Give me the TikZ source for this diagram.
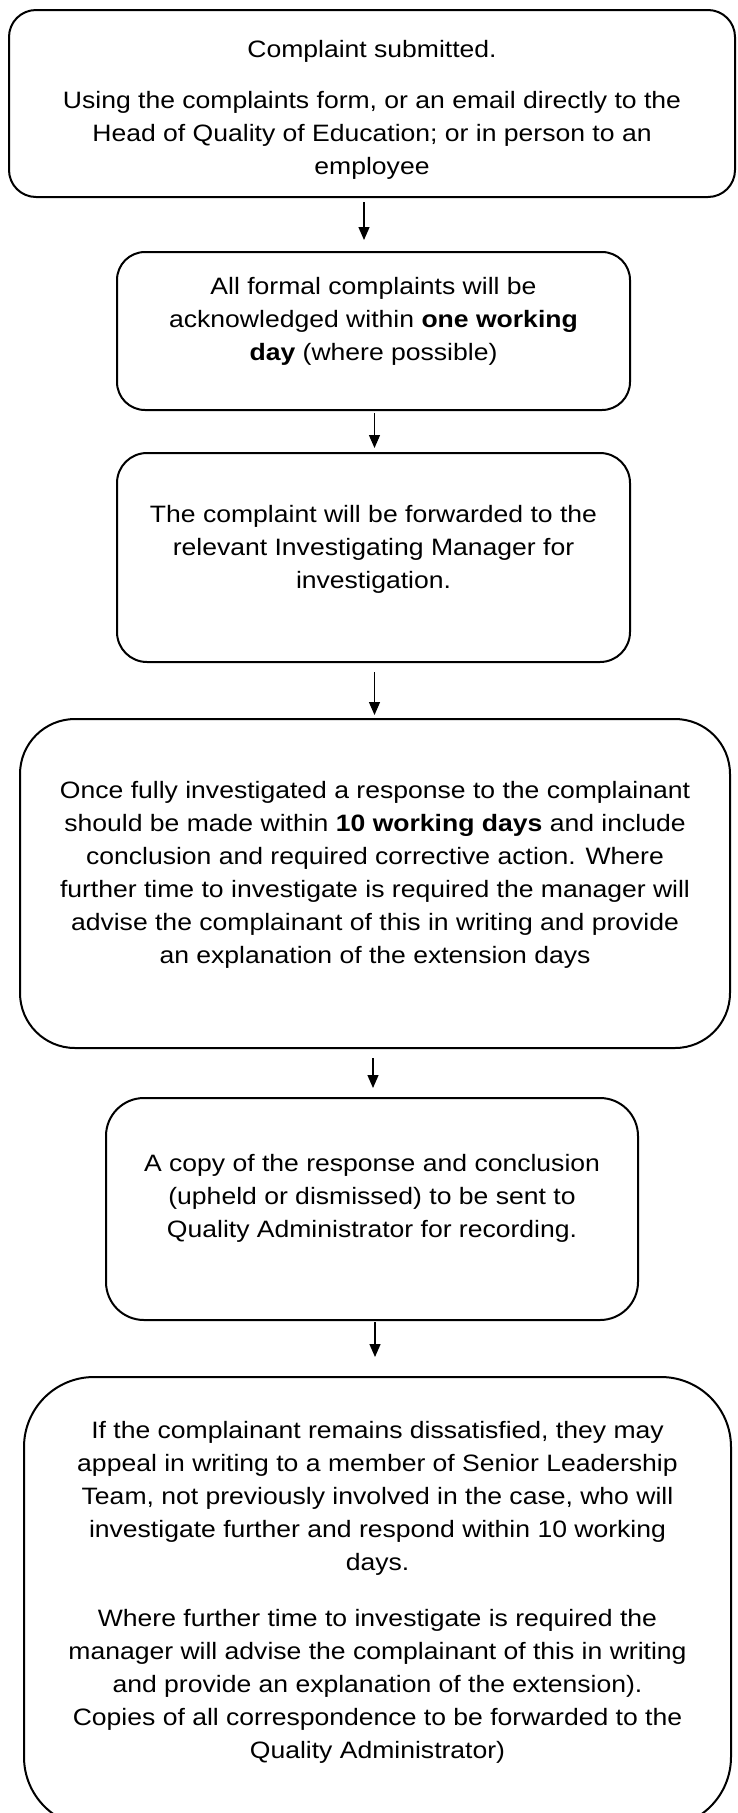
\documentclass[tikz,border=0pt]{standalone}
\usepackage{fontspec}
\setmainfont[FakeStretch=1.12]{Liberation Sans}
\usetikzlibrary{arrows.meta}
\tikzset{
  flowbox/.style={draw=black, line width=2pt, fill=none, inner sep=0pt, outer sep=0pt},
  flowtext/.style={anchor=north, inner sep=0pt, align=center, font=\fontsize{23.7}{33}\selectfont},
  flowarrow/.style={line width=1.3pt, -{Triangle[length=13pt,width=11pt]}}
}
\begin{document}
\begin{tikzpicture}[x=1pt,y=-1pt]
\useasboundingbox (0,0) rectangle (737,1813);
\clip (0,0) rectangle (737,1813);
\fill[white] (0,0) rectangle (737,1813);

% boxes
\node[flowbox, rounded corners=27pt, minimum width=726pt, minimum height=187pt] (b1) at (372,103.5) {};
\node[flowbox, rounded corners=28pt, minimum width=513pt, minimum height=158pt] (b2) at (373.5,331) {};
\node[flowbox, rounded corners=30pt, minimum width=513pt, minimum height=209pt] (b3) at (373.5,557.5) {};
\node[flowbox, rounded corners=55pt, minimum width=710pt, minimum height=329pt] (b4) at (375,883.5) {};
\node[flowbox, rounded corners=38pt, minimum width=532pt, minimum height=222pt] (b5) at (372,1209) {};
\node[flowbox, rounded corners=70pt, minimum width=707pt, minimum height=450pt] (b6) at (377.5,1602) {};

% texts
\node[flowtext] (t1) at (372,33.9) {\strut Complaint submitted.\\[18pt]
\strut Using the complaints form, or an email directly to the\\
\strut Head of Quality of Education; or in person to an\\
\strut employee};
\node[flowtext] (t2) at (373.5,270.9) {\strut All formal complaints will be\\
\strut acknowledged within \textbf{one working}\\
\strut \textbf{day} (where possible)};
\node[flowtext] (t3) at (373.5,498.9) {\strut The complaint will be forwarded to the\\
\strut relevant Investigating Manager for\\
\strut investigation.};
\node[flowtext] (t4) at (375,774.9) {\strut Once fully investigated a response to the complainant\\
\strut should be made within \textbf{10 working days} and include\\
\strut conclusion and required corrective action. Where\\
\strut further time to investigate is required the manager will\\
\strut advise the complainant of this in writing and provide\\
\strut an explanation of the extension days};
\node[flowtext] (t5) at (372,1147.9) {\strut A copy of the response and conclusion\\
\strut (upheld or dismissed) to be sent to\\
\strut Quality Administrator for recording.};
\node[flowtext] (t6) at (377.5,1414.9) {\strut If the complainant remains dissatisfied, they may\\
\strut appeal in writing to a member of Senior Leadership\\
\strut Team, not previously involved in the case, who will\\
\strut investigate further and respond within 10 working\\
\strut days.\\[23pt]
\strut Where further time to investigate is required the\\
\strut manager will advise the complainant of this in writing\\
\strut and provide an explanation of the extension).\\
\strut Copies of all correspondence to be forwarded to the\\
\strut Quality Administrator)};

% arrows
\draw[flowarrow, shorten <=5pt, shorten >=12pt] ([xshift=-8pt]b1.south) -- ([xshift=-8pt]b1.south |- b2.north);
\draw[flowarrow, shorten <=3pt, shorten >=5pt] ([xshift=1pt]b2.south) -- ([xshift=1pt]b2.south |- b3.north);
\draw[flowarrow, shorten <=10pt, shorten >=4pt] ([xshift=1pt]b3.south) -- ([xshift=1pt]b3.south |- b4.north);
\draw[flowarrow, shorten <=10pt, shorten >=10pt] ([xshift=-2pt]b4.south) -- ([xshift=-2pt]b4.south |- b5.north);
\draw[flowarrow, shorten <=2pt, shorten >=20pt] ([xshift=3pt]b5.south) -- ([xshift=3pt]b5.south |- b6.north);
\end{tikzpicture}
\end{document}
